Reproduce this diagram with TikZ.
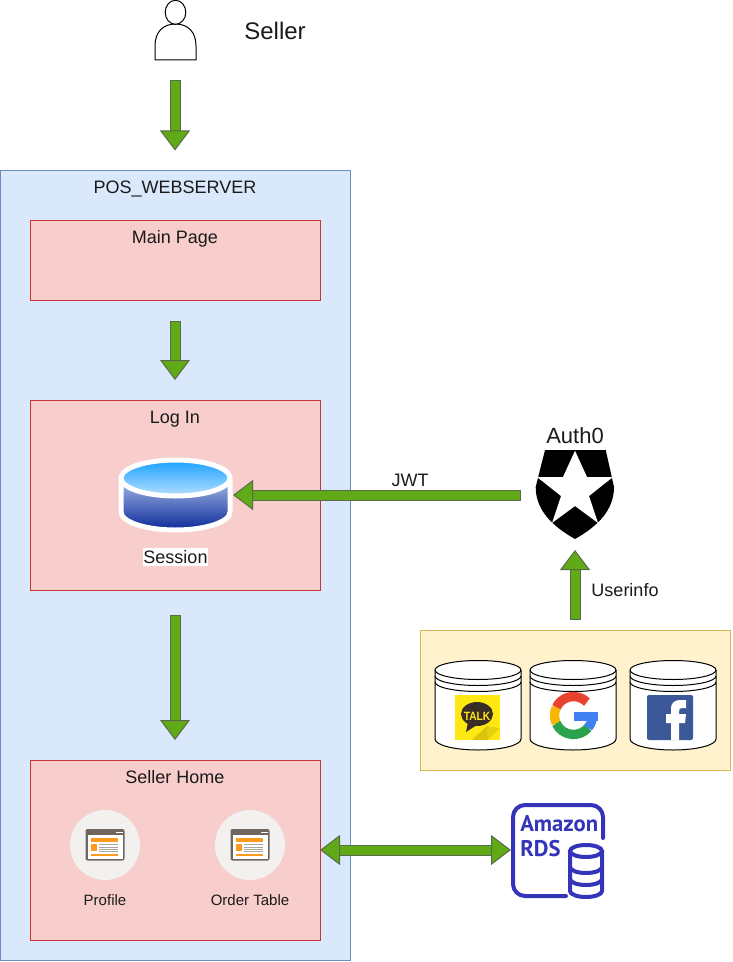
\documentclass[tikz,border=0pt]{standalone}
\usepackage{fontspec}
\setmainfont{Liberation Sans}
\newfontfamily\rdsfont{PT Sans}
\usetikzlibrary{arrows.meta}
\definecolor{serverfill}{HTML}{DAE8FC}
\definecolor{serverline}{HTML}{6C8EBF}
\definecolor{pagefill}{HTML}{F8CECC}
\definecolor{pageline}{HTML}{CC3333}
\definecolor{socialfill}{HTML}{FFF2CC}
\definecolor{socialline}{HTML}{D6B656}
\definecolor{arrowfill}{HTML}{60A917}
\definecolor{arrowline}{HTML}{5A6B4A}
\definecolor{inktext}{HTML}{1A1A1A}
\definecolor{rdsblue}{HTML}{3334B9}
\definecolor{iconcircle}{HTML}{F3F0F0}
\definecolor{iconframe}{HTML}{6F675F}
\definecolor{iconorange}{HTML}{FF9A1F}
\definecolor{talkyellow}{HTML}{FFE812}
\definecolor{talkbrown}{HTML}{3A2D28}
\definecolor{fbblue}{HTML}{3B5998}
\definecolor{storetop}{HTML}{1BA1FF}
\definecolor{storemid}{HTML}{B5E0FF}
\definecolor{wallback}{HTML}{A8BDE6}
\definecolor{wallfront}{HTML}{0C2A9A}
\definecolor{googlered}{HTML}{E8432E}
\definecolor{googleyellow}{HTML}{F6B704}
\definecolor{googlegreen}{HTML}{2BA24C}
\definecolor{googleblue}{HTML}{4080F0}
\tikzset{
  panel/.style={draw, rectangle, inner sep=0pt, outer sep=0pt, line width=.75pt},
  pagebox/.style={panel, fill=pagefill, draw=pageline, minimum width=217.5pt},
  caption/.style={text=inktext, inner sep=0pt, font=\fontsize{13.5}{16}\selectfont},
  smallcaption/.style={text=inktext, inner sep=0pt, font=\fontsize{11.25}{14}\selectfont},
  bigcaption/.style={text=inktext, inner sep=0pt, font=\fontsize{18}{21}\selectfont},
  blockarrow/.style={line width=.75pt, draw=arrowline, double=arrowfill, double distance=6.75pt,
    {Bar[width=8.25pt,line width=.75pt]}-{Triangle[length=15pt,width=22.5pt,fill=arrowfill,line width=.75pt]}},
  twowayarrow/.style={line width=.75pt, draw=arrowline, double=arrowfill, double distance=6.75pt,
    {Triangle[length=15pt,width=22.5pt,fill=arrowfill,line width=.75pt]}-{Triangle[length=15pt,width=22.5pt,fill=arrowfill,line width=.75pt]}},
  jar/.style={draw=black, fill=white, line width=.75pt},
  rdsline/.style={draw=rdsblue, line width=3pt},
}
% browser window icon on its grey disc
\newcommand{\webicon}[1]{
  \begin{scope}[shift={(#1,845)}]
    \fill[iconcircle] (0,0) circle (26.25pt);
    \fill[iconframe, rounded corners=1.5pt] (-19.5,-16) rectangle (19.5,15.5);
    \fill[white] (-17.5,-10) rectangle (17.5,13.5);
    \fill[white] (11,-13.5) rectangle (18,-12);
    \fill[iconorange] (-14,-7) rectangle (13,-3.5);
    \fill[iconorange] (-14,8.5) rectangle (13,10.5);
    \fill[iconorange] (-14,-1.5) rectangle (-8,6);
    \foreach \y in {-.5,2,4,6} {\fill[black!35] (-6,\y-.5) rectangle (13,\y+.5);}
  \end{scope}
}
% white jar of one login provider
\newcommand{\loginjar}[1]{
  \begin{scope}[shift={(#1,0)}]
    \draw[jar] (-43,670) -- (-43,739) arc[start angle=180, end angle=0, x radius=43, y radius=11]
      -- (43,670) arc[start angle=0, end angle=-180, x radius=43, y radius=9.5] -- cycle;
    \draw[jar, fill=none] (-43,670) arc[start angle=180, end angle=0, x radius=43, y radius=9.5];
    \draw[jar, fill=none] (-43,676) arc[start angle=180, end angle=0, x radius=43, y radius=9.5];
    \draw[jar, fill=none] (-43,682) arc[start angle=180, end angle=0, x radius=43, y radius=9.5];
  \end{scope}
}
\begin{document}
\begin{tikzpicture}[x=.75pt, y=-.75pt]
  \useasboundingbox (0,0) rectangle (732,962);
  % seller
  \draw[fill=white, line width=.75pt] (155,60) -- (155,46) .. controls (155,32) and (163,24) .. (175.5,24)
    .. controls (188,24) and (196,32) .. (196,46) -- (196,60) -- cycle;
  \draw[fill=white, line width=.75pt] (175.5,12.3) ellipse [x radius=10.3, y radius=12];
  \coordinate (sellerbase) at (175,60);
  \node[bigcaption] (sellerlabel) at (275,31) {Seller};
  % web server and its pages
  \node[panel, fill=serverfill, draw=serverline, minimum width=262.5pt, minimum height=592.5pt] (webserver) at (175,565.5) {};
  \node[caption] (webservertitle) at (175,189) {POS\_WEBSERVER};
  \node[pagebox, minimum height=60pt] (mainpage) at (175,260.5) {};
  \node[caption] (mainpagetitle) at (175,239) {Main Page};
  \node[pagebox, minimum height=142.5pt] (login) at (175,495) {};
  \node[caption] (logintitle) at (175,419) {Log In};
  \node[pagebox, minimum height=135pt] (sellerhome) at (175,850) {};
  \node[caption] (sellerhometitle) at (175,777) {Seller Home};
  % session store
  \fill[top color=wallback, bottom color=wallfront] (121,478) -- (121,512)
    arc[start angle=180, end angle=0, x radius=54.5, y radius=18] -- (230,478) -- cycle;
  \draw[white, line width=3.75pt] (121,478) -- (121,512) arc[start angle=180, end angle=0, x radius=54.5, y radius=18] -- (230,478);
  \path[draw=white, line width=3.75pt, top color=storetop, bottom color=storemid]
    (175.5,478) ellipse [x radius=54.5, y radius=18];
  \coordinate (sessionstore) at (233,495);
  \node[caption, fill=white, inner xsep=.5pt, inner ysep=1.5pt] (sessionlabel) at (175.5,557) {Session};
  % seller home pages
  \webicon{105}
  \webicon{250}
  \node[smallcaption] (profilelabel) at (105,900) {Profile};
  \node[smallcaption] (ordertablelabel) at (250,900) {Order Table};
  % auth0
  \node[text=inktext, inner sep=0pt, font=\fontsize{16.5}{20}\selectfont] (authlabel) at (575,436) {Auth0};
  \fill[black] (545,450) -- (605.7,450) -- (614,487) .. controls (614,510) and (598,526) .. (575,539)
    .. controls (552,526) and (535.7,510) .. (535.7,487) -- cycle;
  \fill[white] (575,450.7) -- (587,477) -- (613,477) -- (589,496) -- (598,523) -- (575,506)
    -- (552,523) -- (561,496) -- (537,477) -- (563,477) -- cycle;
  \coordinate (authleft) at (535,495);
  \coordinate (authbase) at (575,540);
  % login providers
  \node[panel, fill=socialfill, draw=socialline, minimum width=232.5pt, minimum height=105pt] (providers) at (575,700) {};
  \loginjar{478}
  \loginjar{573}
  \loginjar{673}
  % kakao talk
  \fill[talkyellow] (455,695) rectangle (500,740);
  \fill[black!10!talkyellow] (488,740) -- (500,728) -- (487,726) -- cycle;
  \fill[black!15!talkyellow] (472,740) -- (487,726) -- (488,740) -- cycle;
  \fill[talkbrown] (477,714) ellipse [x radius=16, y radius=12];
  \fill[talkbrown] (468,722) -- (466,732) -- (477,725) -- cycle;
  \node[text=talkyellow, inner sep=0pt, xscale=.85, font=\bfseries\fontsize{9}{10}\selectfont] (talklabel) at (477,716) {TALK};
  % google
  \draw[line width=7pt, color=googlered] (573.5,715.5) ++(-45:19) arc[start angle=-45, end angle=-155, radius=19];
  \draw[line width=7pt, color=googleyellow] (573.5,715.5) ++(-155:19) arc[start angle=-155, end angle=-205, radius=19];
  \draw[line width=7pt, color=googlegreen] (573.5,715.5) ++(-205:19) arc[start angle=-205, end angle=-320, radius=19];
  \draw[line width=7pt, color=googleblue] (573.5,715.5) ++(-320:19) arc[start angle=-320, end angle=-360, radius=19];
  \fill[googleblue] (574,712) rectangle (598,721);
  % facebook
  \fill[fbblue, rounded corners=1.5pt] (647,695) rectangle (693,740);
  \fill[white] (671,740) -- (671,723) -- (666,723) -- (666,714) -- (671,714) -- (671,708)
    .. controls (671,703) and (675,700) .. (680,700) -- (686,700) -- (686,708) -- (682,708)
    .. controls (680,708) and (679,709) .. (679,711) -- (679,714) -- (686,714) -- (685,723)
    -- (679,723) -- (679,740) -- cycle;
  % amazon rds
  \draw[rdsline, line cap=round] (603,838) -- (603,817) arc[start angle=0, end angle=-90, radius=12]
    -- (525,805) arc[start angle=-90, end angle=-180, radius=12] -- (513,884)
    arc[start angle=180, end angle=90, radius=12] -- (566,896);
  \node[text=rdsblue, inner sep=0pt, anchor=base west, font=\rdsfont\bfseries\fontsize{17}{20}\selectfont] (rdsname) at (520,831) {Amazon};
  \node[text=rdsblue, inner sep=0pt, anchor=base west, font=\rdsfont\bfseries\fontsize{17}{20}\selectfont] (rdstype) at (520,856) {RDS};
  \draw[rdsline] (586,851) ellipse [x radius=16, y radius=6];
  \draw[rdsline] (570,851) -- (570,891) arc[start angle=180, end angle=0, x radius=16, y radius=6] -- (602,851);
  \draw[rdsline] (570,867) arc[start angle=180, end angle=0, x radius=16, y radius=6];
  \draw[rdsline] (570,879) arc[start angle=180, end angle=0, x radius=16, y radius=6];
  \coordinate (rdsleft) at (511,850);
  % connectors
  \draw[blockarrow, shorten <=15pt, shorten >=15pt] (sellerbase) -- (webserver.north);
  \draw[blockarrow, shorten <=15pt, shorten >=15pt] (mainpage.south) -- (login.north);
  \draw[blockarrow, shorten <=18.75pt, shorten >=15pt] (login.south) -- (sellerhome.north);
  \draw[blockarrow, shorten <=10.5pt] (authleft) -- (sessionstore);
  \node[caption] (jwtlabel) at (410,480) {JWT};
  \draw[blockarrow, shorten <=7.5pt, shorten >=7.5pt] (providers.north) -- (authbase);
  \node[caption] (userinfolabel) at (625,590) {Userinfo};
  \draw[twowayarrow] (sellerhome.east) -- (rdsleft);
\end{tikzpicture}
\end{document}
